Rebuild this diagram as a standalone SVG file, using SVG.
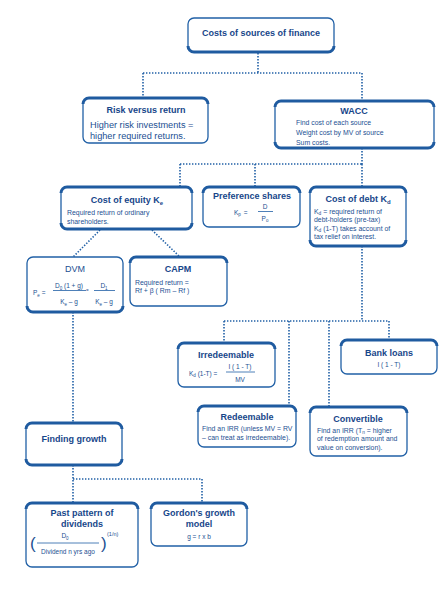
<svg xmlns="http://www.w3.org/2000/svg" width="447" height="600" viewBox="0 0 447 600">
<style>
.box{fill:#fff;stroke:#2160a6;stroke-width:1.3}
.edge{fill:none;stroke:#1f5ba0;stroke-width:3}
.con{fill:none;stroke:#2160a6;stroke-width:1.6;stroke-dasharray:1.4 1.6}
.rule{stroke:#2160a6;stroke-width:0.8}
text{font-family:"Liberation Sans",Arial,sans-serif;fill:#1c4f92}
.t{font-weight:bold;font-size:9px;text-anchor:middle;fill:#17468a}
.b{font-size:6.9px}
.f{font-size:6.5px}
.m{text-anchor:middle}
.big{font-size:9.2px}
</style>
<rect width="447" height="600" fill="#fff"/>
<g id="connectors">
<path class="con" d="M258,53V73M143,73H362M143,73V98M362,73V101"/>
<path class="con" d="M362,148V164M180,164H362M180,164V187M255,164V187M362,164V187"/>
<path class="con" d="M100,230L73,257M152,230L180,257"/>
<path class="con" d="M73,312V423"/>
<path class="con" d="M362,246V321M224,321H389M224,321V343M289,321V406M329,321V407M389,321V340"/>
<path class="con" d="M73,465V503M73,479H202M202,479V503"/>
</g>
<g id="costs">
<rect class="box" x="188" y="18" width="146" height="34" rx="6"/>
<path class="edge" d="M188,46A6,6 0 0 0 194,52H328A6,6 0 0 0 334,46"/>
<text class="t" x="261" y="36">Costs of sources of finance</text>
</g>
<g id="risk">
<rect class="box" x="83" y="98" width="125" height="45" rx="6"/>
<path class="edge" d="M83,104A6,6 0 0 1 89,98H202A6,6 0 0 1 208,104"/>
<text class="t" x="146" y="113">Risk versus return</text>
<text class="big" x="90" y="127.5">Higher risk investments =</text>
<text class="big" x="90" y="138.5">higher required returns.</text>
</g>
<g id="wacc">
<rect class="box" x="275" y="101" width="159" height="47" rx="6"/>
<path class="edge" d="M275,107A6,6 0 0 1 281,101H428A6,6 0 0 1 434,107"/>
<path class="edge" d="M275,142A6,6 0 0 0 281,148H428A6,6 0 0 0 434,142"/>
<text class="t" x="354" y="113.5">WACC</text>
<text class="b" x="296" y="124.5">Find cost of each source</text>
<text class="b" x="296" y="134.5">Weight cost by MV of source</text>
<text class="b" x="296" y="144.5">Sum costs.</text>
</g>
<g id="equity">
<rect class="box" x="61" y="187" width="131" height="42" rx="6"/>
<path class="edge" d="M61,193A6,6 0 0 1 67,187H186A6,6 0 0 1 192,193"/>
<path class="edge" d="M61,223A6,6 0 0 0 67,229H186A6,6 0 0 0 192,223"/>
<text class="t" x="127" y="203">Cost of equity K<tspan font-size="6" dy="2">e</tspan></text>
<text class="b" x="67" y="214.5">Required return of ordinary</text>
<text class="b" x="67" y="223.5">shareholders.</text>
</g>
<g id="preference">
<rect class="box" x="203" y="187" width="97" height="40" rx="6"/>
<path class="edge" d="M203,193A6,6 0 0 1 209,187H294A6,6 0 0 1 300,193"/>
<text class="t" x="252" y="199">Preference shares</text>
<text class="f" x="234" y="214.5">K<tspan font-size="4.5" dy="1.5">p</tspan><tspan dy="-1.5" dx="3">=</tspan></text>
<text class="f m" x="265" y="209">D</text>
<line class="rule" x1="258" y1="211.5" x2="273" y2="211.5"/>
<text class="f m" x="265" y="220.5">P<tspan font-size="4.5" dy="1.5">o</tspan></text>
</g>
<g id="debt">
<rect class="box" x="310" y="187" width="96" height="59" rx="6"/>
<path class="edge" d="M310,193A6,6 0 0 1 316,187H400A6,6 0 0 1 406,193"/>
<path class="edge" d="M310,240A6,6 0 0 0 316,246H400A6,6 0 0 0 406,240"/>
<text class="t" x="358" y="202">Cost of debt K<tspan font-size="6" dy="2">d</tspan></text>
<text class="b" x="314" y="213.5">K<tspan font-size="4.8" dy="1.5">d</tspan><tspan dy="-1.5"> = required return of</tspan></text>
<text class="b" x="314" y="222">debt-holders (pre-tax)</text>
<text class="b" x="314" y="230.5">K<tspan font-size="4.8" dy="1.5">d</tspan><tspan dy="-1.5"> (1-T) takes account of</tspan></text>
<text class="b" x="314" y="239">tax relief on interest.</text>
</g>
<g id="dvm">
<rect class="box" x="27" y="257" width="96" height="55" rx="6"/>
<path class="edge" d="M27,306A6,6 0 0 0 33,312H117A6,6 0 0 0 123,306"/>
<text x="75" y="271.5" font-size="9" text-anchor="middle">DVM</text>
<text class="f" x="33" y="295">P<tspan font-size="4.5" dy="1.5">e</tspan><tspan dy="-1.5"> =</tspan></text>
<text class="f m" x="69" y="288">D<tspan font-size="4.5" dy="1.5">0</tspan><tspan dy="-1.5"> (1 + g)</tspan></text>
<line class="rule" x1="53" y1="290.5" x2="86" y2="290.5"/>
<text font-size="4.5" x="86" y="292">=</text>
<text class="f m" x="69" y="304">K<tspan font-size="4.5" dy="1.5">e</tspan><tspan dy="-1.5"> – g</tspan></text>
<text class="f m" x="104" y="288">D<tspan font-size="4.5" dy="1.5">1</tspan></text>
<line class="rule" x1="94" y1="290.5" x2="115" y2="290.5"/>
<text class="f m" x="104" y="304">K<tspan font-size="4.5" dy="1.5">e</tspan><tspan dy="-1.5"> – g</tspan></text>
</g>
<g id="capm">
<rect class="box" x="130" y="257" width="97" height="49" rx="6"/>
<path class="edge" d="M130,263A6,6 0 0 1 136,257H221A6,6 0 0 1 227,263"/>
<text class="t" x="178" y="271.5">CAPM</text>
<text class="b" x="135" y="284.5">Required return =</text>
<text class="b" x="135" y="292.5">Rf + β ( Rm – Rf )</text>
</g>
<g id="irredeemable">
<rect class="box" x="178" y="343" width="97" height="44" rx="6"/>
<path class="edge" d="M178,349A6,6 0 0 1 184,343H269A6,6 0 0 1 275,349"/>
<text class="t" x="226" y="357.5">Irredeemable</text>
<text class="f" x="189" y="375.5">K<tspan font-size="4.5" dy="1.5">d</tspan><tspan dy="-1.5"> (1-T) =</tspan></text>
<text class="f m" x="240" y="369">I ( 1 - T)</text>
<line class="rule" x1="226" y1="372" x2="255" y2="372"/>
<text class="f m" x="240" y="382">MV</text>
</g>
<g id="bank">
<rect class="box" x="341" y="340" width="96" height="34" rx="6"/>
<path class="edge" d="M341,346A6,6 0 0 1 347,340H431A6,6 0 0 1 437,346"/>
<text class="t" x="389" y="356">Bank loans</text>
<text class="f m" x="389" y="366.5">I ( 1 - T)</text>
</g>
<g id="redeemable">
<rect class="box" x="198" y="406" width="98" height="41" rx="6"/>
<path class="edge" d="M198,412A6,6 0 0 1 204,406H290A6,6 0 0 1 296,412"/>
<text class="t" x="247" y="420">Redeemable</text>
<text class="b" x="202" y="430.5">Find an IRR (unless MV = RV</text>
<text class="b" x="202" y="439.5">– can treat as irredeemable).</text>
</g>
<g id="convertible">
<rect class="box" x="310" y="407" width="97" height="49" rx="6"/>
<path class="edge" d="M310,413A6,6 0 0 1 316,407H401A6,6 0 0 1 407,413"/>
<text class="t" x="358" y="422">Convertible</text>
<text class="b" x="317" y="432.5">Find an IRR  (T<tspan font-size="4.8" dy="1.5">n</tspan><tspan dy="-1.5"> = higher</tspan></text>
<text class="b" x="317" y="441">of redemption amount and</text>
<text class="b" x="317" y="449.5">value on conversion).</text>
</g>
<g id="finding">
<rect class="box" x="26" y="423" width="96" height="42" rx="6"/>
<path class="edge" d="M26,429A6,6 0 0 1 32,423H116A6,6 0 0 1 122,429"/>
<path class="edge" d="M26,459A6,6 0 0 0 32,465H116A6,6 0 0 0 122,459"/>
<text class="t" x="74" y="442">Finding growth</text>
</g>
<g id="past">
<rect class="box" x="26" y="503" width="112" height="64" rx="6"/>
<path class="edge" d="M26,509A6,6 0 0 1 32,503H132A6,6 0 0 1 138,509"/>
<text class="t" x="82" y="516">Past pattern of</text>
<text class="t" x="82" y="527">dividends</text>
<text x="30" y="549" font-size="17">(</text>
<text x="101" y="549" font-size="17">)</text>
<text class="f m" x="65" y="538">D<tspan font-size="4.5" dy="1.5">0</tspan></text>
<line class="rule" x1="37" y1="543" x2="99" y2="543"/>
<text class="f m" x="68" y="554">Dividend n yrs ago</text>
<text x="107" y="536" font-size="5.5">(1/n)</text>
</g>
<g id="gordon">
<rect class="box" x="151" y="503" width="96" height="43" rx="6"/>
<path class="edge" d="M151,509A6,6 0 0 1 157,503H241A6,6 0 0 1 247,509"/>
<text class="t" x="199" y="516">Gordon's growth</text>
<text class="t" x="199" y="526.5">model</text>
<text class="f m" x="199" y="538.5">g = r  x b</text>
</g>
</svg>
